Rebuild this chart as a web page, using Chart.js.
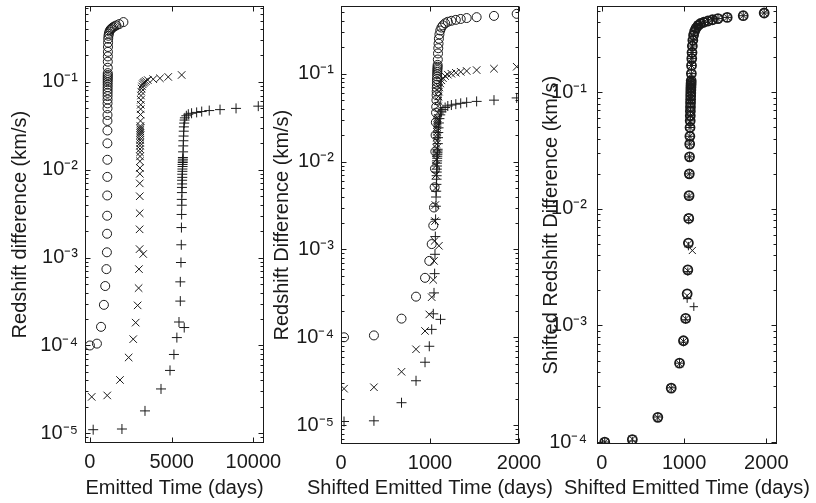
<!DOCTYPE html>
<html><head><meta charset="utf-8">
<script src="https://cdn.jsdelivr.net/npm/chart.js@4.4.1/dist/chart.umd.min.js"></script>
<style>
html,body{margin:0;padding:0;background:#fff;}
#wrap{position:relative;width:816px;height:503px;overflow:hidden;background:#fff;}
canvas{position:absolute;top:0;}
</style></head><body>
<div id="wrap">
<canvas id="c1" width="300" height="503" style="left:0px;width:300px;height:503px"></canvas>
<canvas id="c2" width="300" height="503" style="left:268px;width:300px;height:503px"></canvas>
<canvas id="c3" width="280" height="503" style="left:536px;width:280px;height:503px"></canvas>
</div>
<script>
// ---------- data ----------
// shifted emitted time (days), common grid of panels 2 and 3
const shiftedTime = [34, 370, 680, 843, 944, 992, 1019, 1037, 1045, 1052, 1056, 1060, 1063, 1066, 1068, 1070, 1072, 1074, 1075, 1076, 1077, 1078, 1079, 1080, 1081, 1082, 1083, 1084, 1085, 1086, 1088, 1090, 1093, 1096, 1100, 1106, 1115, 1128, 1145, 1170, 1200, 1240, 1290, 1345, 1412, 1524, 1719, 1974];

// emitted time (days), panel 1
const circleTime = [0, 430, 680, 857, 937, 1010, 1040, 1050, 1055, 1060, 1065, 1068, 1070, 1072, 1074, 1076, 1078, 1080, 1081, 1082, 1083, 1084, 1085, 1086, 1087, 1088, 1089, 1090, 1091, 1092, 1094, 1096, 1099, 1102, 1106, 1112, 1120, 1135, 1160, 1195, 1240, 1290, 1350, 1420, 1510, 1620, 1790, 2050];
const crossTime = [110, 1060, 1840, 2370, 2650, 2800, 2920, 2980, 3000, 3040, 3040, 3045, 3050, 3050, 3055, 3060, 3060, 3065, 3065, 3070, 3070, 3075, 3075, 3080, 3080, 3080, 3085, 3085, 3090, 3090, 3095, 3100, 3105, 3110, 3115, 3125, 3140, 3160, 3190, 3230, 3280, 3340, 3420, 3540, 3874, 4284, 4792, 5612];
const plusTime = [200, 1960, 3370, 4350, 4900, 5140, 5320, 5450, 5530, 5530, 5570, 5590, 5600, 5610, 5620, 5620, 5630, 5630, 5640, 5640, 5650, 5650, 5660, 5660, 5670, 5670, 5680, 5680, 5690, 5690, 5700, 5710, 5720, 5730, 5740, 5750, 5770, 5790, 5810, 5900, 6020, 6220, 6530, 6840, 7300, 7960, 8940, 10300];

// redshift difference (km/s), panels 1 and 2
const circleValues = [1.0e-4, 1.05e-4, 1.63e-4, 2.9e-4, 4.75e-4, 7.4e-4, 1.15e-3, 1.87e-3, 3.0e-3, 5.1e-3, 8.3e-3, 1.3e-2, 2.0e-2, 2.8e-2, 3.6e-2, 4.2e-2, 5.0e-2, 5.7e-2, 6.3e-2, 6.9e-2, 7.5e-2, 8.1e-2, 8.7e-2, 9.3e-2, 9.9e-2, 1.05e-1, 1.1e-1, 1.15e-1, 1.2e-1, 1.26e-1, 1.45e-1, 1.7e-1, 1.95e-1, 2.2e-1, 2.5e-1, 2.8e-1, 3.1e-1, 3.35e-1, 3.55e-1, 3.75e-1, 3.9e-1, 4.0e-1, 4.1e-1, 4.2e-1, 4.3e-1, 4.4e-1, 4.55e-1, 4.8e-1];
const crossValues = [2.6e-5, 2.7e-5, 4.05e-5, 7.3e-5, 1.18e-4, 1.82e-4, 2.86e-4, 4.5e-4, 7.4e-4, 1.25e-3, 2.1e-3, 3.2e-3, 5.0e-3, 7.0e-3, 9.0e-3, 1.05e-2, 1.25e-2, 1.42e-2, 1.58e-2, 1.72e-2, 1.88e-2, 2.02e-2, 2.18e-2, 2.32e-2, 2.48e-2, 2.62e-2, 2.75e-2, 2.88e-2, 3.0e-2, 3.15e-2, 3.6e-2, 4.25e-2, 4.9e-2, 5.5e-2, 6.25e-2, 7.0e-2, 7.75e-2, 8.4e-2, 8.9e-2, 9.4e-2, 9.75e-2, 1.0e-1, 1.025e-1, 1.05e-1, 1.075e-1, 1.1e-1, 1.14e-1, 1.2e-1];
const plusValues = [1.1e-5, 1.12e-5, 1.8e-5, 3.2e-5, 5.2e-5, 7.9e-5, 1.23e-4, 1.85e-4, 3.2e-4, 5.3e-4, 8.8e-4, 1.4e-3, 2.2e-3, 3.1e-3, 3.95e-3, 4.6e-3, 5.5e-3, 6.3e-3, 6.9e-3, 7.6e-3, 8.2e-3, 8.9e-3, 9.6e-3, 1.02e-2, 1.09e-2, 1.15e-2, 1.21e-2, 1.26e-2, 1.32e-2, 1.38e-2, 1.6e-2, 1.87e-2, 2.14e-2, 2.42e-2, 2.75e-2, 3.08e-2, 3.4e-2, 3.68e-2, 3.9e-2, 4.12e-2, 4.29e-2, 4.4e-2, 4.5e-2, 4.6e-2, 4.72e-2, 4.84e-2, 5.0e-2, 5.3e-2];

// shifted redshift difference (km/s), panel 3
const crossShiftedValues = [1.0e-4, 1.06e-4, 1.62e-4, 2.9e-4, 4.7e-4, 7.3e-4, 1.14e-3, 1.8e-3, 2.95e-3, 5.0e-3, 8.4e-3, 1.28e-2, 2.0e-2, 2.8e-2, 3.6e-2, 4.2e-2, 5.0e-2, 5.7e-2, 6.3e-2, 6.9e-2, 7.5e-2, 8.1e-2, 8.7e-2, 9.3e-2, 9.9e-2, 1.05e-1, 1.1e-1, 1.15e-1, 1.2e-1, 1.26e-1, 1.44e-1, 1.7e-1, 1.96e-1, 2.2e-1, 2.5e-1, 2.8e-1, 3.1e-1, 3.36e-1, 3.56e-1, 3.76e-1, 3.9e-1, 4.0e-1, 4.1e-1, 4.2e-1, 4.3e-1, 4.4e-1, 4.56e-1, 4.8e-1];
const plusShiftedValues = [1.0e-4, 1.02e-4, 1.64e-4, 2.92e-4, 4.75e-4, 7.2e-4, 1.12e-3, 1.7e-3, 2.9e-3, 4.8e-3, 8.0e-3, 1.27e-2, 2.0e-2, 2.8e-2, 3.6e-2, 4.2e-2, 5.0e-2, 5.7e-2, 6.3e-2, 6.9e-2, 7.5e-2, 8.1e-2, 8.7e-2, 9.3e-2, 9.9e-2, 1.05e-1, 1.1e-1, 1.15e-1, 1.2e-1, 1.26e-1, 1.45e-1, 1.7e-1, 1.95e-1, 2.2e-1, 2.5e-1, 2.8e-1, 3.1e-1, 3.35e-1, 3.55e-1, 3.75e-1, 3.9e-1, 4.0e-1, 4.1e-1, 4.2e-1, 4.3e-1, 4.4e-1, 4.55e-1, 4.8e-1];

// isolated points of the x and + series
const crossExtraTime = [3260], crossExtraShiftedTime = [1100], crossExtraValue = [1.1e-3], crossExtraShiftedValue = [4.4e-3];
const plusExtraTime = [5770], plusExtraShiftedTime = [1118], plusExtraValue = [1.6e-4], plusExtraShiftedValue = [1.45e-3];

// axes
const p1XTicks = [0, 5000, 10000], p1XTickLabels = ['0', '5000', '10000'];
const p2XTicks = [0, 1000, 2000], p2XTickLabels = ['0', '1000', '2000'];
const p3XTicks = [0, 1000, 2000], p3XTickLabels = ['0', '1000', '2000'];
const p12YTicks = [1e-5, 1e-4, 1e-3, 1e-2, 1e-1], p12YTickLabels = ['10\u207B\u2075', '10\u207B\u2074', '10\u207B\u00B3', '10\u207B\u00B2', '10\u207B\u00B9'];
const p3YTicks = [1e-4, 1e-3, 1e-2, 1e-1], p3YTickLabels = ['10\u207B\u2074', '10\u207B\u00B3', '10\u207B\u00B2', '10\u207B\u00B9'];

// ---------- rendering ----------
const FONT = '"Liberation Sans", Arial, Helvetica, sans-serif';
const INK = '#1a1a1a';

const pts = (xs, ys) => xs.map((x, i) => ({x: x, y: ys[i]}));

function series(data, style, radius, width) {
  return {
    data: data, showLine: false,
    pointStyle: style, pointRadius: radius, pointHoverRadius: radius,
    pointBorderColor: INK, borderColor: INK,
    pointBackgroundColor: 'rgba(0,0,0,0)', backgroundColor: 'rgba(0,0,0,0)',
    pointBorderWidth: width, borderWidth: width
  };
}

const framePlugin = {
  id: 'frame',
  afterDraw(chart, args, o) {
    const {ctx, chartArea: a} = chart;
    const xs = chart.scales.x, ys = chart.scales.y;
    const L = Math.round(a.left) + 0.5, R = Math.round(a.right) - 0.5;
    const T = Math.round(a.top) + 0.5, B = Math.round(a.bottom) - 0.5;
    ctx.save();
    ctx.strokeStyle = INK; ctx.lineWidth = 1;
    ctx.strokeRect(L, T, R - L, B - T);
    ctx.beginPath();
    xs.ticks.forEach(t => {
      const px = Math.round(xs.getPixelForValue(t.value)) + 0.5;
      ctx.moveTo(px, T); ctx.lineTo(px, T + 5);
      ctx.moveTo(px, B); ctx.lineTo(px, B - 5);
    });
    ys.ticks.forEach(t => {
      const py = Math.round(ys.getPixelForValue(t.value)) + 0.5;
      ctx.moveTo(L, py); ctx.lineTo(L + 5, py);
      ctx.moveTo(R, py); ctx.lineTo(R - 5, py);
    });
    const lo = Math.floor(Math.log10(ys.min)), hi = Math.ceil(Math.log10(ys.max));
    for (let d = lo; d <= hi; d++) {
      for (let k = 2; k <= 9; k++) {
        const v = k * Math.pow(10, d);
        if (v <= ys.min || v >= ys.max) continue;
        const py = Math.round(ys.getPixelForValue(v)) + 0.5;
        ctx.moveTo(L, py); ctx.lineTo(L + 3, py);
        ctx.moveTo(R, py); ctx.lineTo(R - 3, py);
      }
    }
    ctx.stroke();
    ctx.fillStyle = INK;
    ctx.font = '20px ' + FONT;
    ctx.textAlign = 'center'; ctx.textBaseline = 'middle';
    ctx.fillText(o.xTitle, (a.left + a.right) / 2, o.xTitleY);
    ctx.restore();
  }
};

function makePanel(id, p) {
  return new Chart(document.getElementById(id), {
    type: 'scatter',
    data: {datasets: p.datasets},
    options: {
      responsive: false, animation: false, devicePixelRatio: 1, events: [],
      layout: {padding: {left: 0, right: p.padRight, top: 4, bottom: 0}},
      plugins: {legend: {display: false}, tooltip: {enabled: false},
                frame: {xTitle: p.xTitle, xTitleY: 488}},
      scales: {
        x: {
          type: 'linear', min: p.xMin, max: p.xMax, bounds: 'data',
          grid: {display: false, drawTicks: false}, border: {display: false},
          afterBuildTicks: s => { s.ticks = p.xTicks.map(v => ({value: v})); },
          ticks: {autoSkip: false, maxRotation: 0, minRotation: 0, padding: 7, color: INK,
                  font: {family: FONT, size: 20}, callback: (v, i) => p.xTickLabels[i]},
          afterFit: s => { s.height = p.xAxisH; s.paddingLeft = 0; s.paddingRight = 0; }
        },
        y: {
          type: 'logarithmic', min: p.yMin, max: p.yMax, bounds: 'data',
          grid: {display: false, drawTicks: false}, border: {display: false},
          afterBuildTicks: s => { s.ticks = p.yTicks.map(v => ({value: v})); },
          ticks: {autoSkip: false, padding: p.yTickPad, color: INK,
                  font: {family: FONT, size: 20}, callback: (v, i) => p.yTickLabels[i]},
          title: {display: true, text: p.yTitle, color: INK, font: {family: FONT, size: 20},
                  padding: {top: p.yTitlePad, bottom: 0}},
          afterFit: s => { s.width = p.yAxisW; s.paddingTop = 0; s.paddingBottom = 0; }
        }
      }
    },
    plugins: [framePlugin]
  });
}

makePanel('c1', {
  datasets: [
    series(pts(circleTime, circleValues), 'circle', 4.5, 1),
    series(pts(crossTime.concat(crossExtraTime), crossValues.concat(crossExtraValue)), 'crossRot', 5.3, 1),
    series(pts(plusTime.concat(plusExtraTime), plusValues.concat(plusExtraValue)), 'cross', 5, 1)
  ],
  xMin: -300, xMax: 10650, xTicks: p1XTicks, xTickLabels: p1XTickLabels,
  yMin: 7.76e-6, yMax: 0.726, yTicks: p12YTicks, yTickLabels: p12YTickLabels,
  yTitle: 'Redshift difference (km/s)', xTitle: 'Emitted Time (days)',
  padRight: 36, xAxisH: 60, yAxisW: 85, yTitlePad: 8, yTickPad: 7
});

makePanel('c2', {
  datasets: [
    series(pts(shiftedTime, circleValues), 'circle', 4.5, 1),
    series(pts(shiftedTime.concat(crossExtraShiftedTime), crossValues.concat(crossExtraValue)), 'crossRot', 5.3, 1),
    series(pts(shiftedTime.concat(plusExtraShiftedTime), plusValues.concat(plusExtraValue)), 'cross', 5, 1)
  ],
  xMin: 0, xMax: 2000, xTicks: p2XTicks, xTickLabels: p2XTickLabels,
  yMin: 6.1e-6, yMax: 0.585, yTicks: p12YTicks, yTickLabels: p12YTickLabels,
  yTitle: 'Redshift Difference (km/s)', xTitle: 'Shifted Emitted Time (days)',
  padRight: 49, xAxisH: 59, yAxisW: 73, yTitlePad: 2, yTickPad: 7
});

makePanel('c3', {
  datasets: [
    series(pts(shiftedTime, circleValues), 'circle', 4.5, 1.8),
    series(pts(shiftedTime.concat(crossExtraShiftedTime), crossShiftedValues.concat(crossExtraShiftedValue)), 'crossRot', 5, 1),
    series(pts(shiftedTime.concat(plusExtraShiftedTime), plusShiftedValues.concat(plusExtraShiftedValue)), 'cross', 4.2, 1)
  ],
  xMin: -60, xMax: 2130, xTicks: p3XTicks, xTickLabels: p3XTickLabels,
  yMin: 9.62e-5, yMax: 0.548, yTicks: p3YTicks, yTickLabels: p3YTickLabels,
  yTitle: 'Shifted Redshift Difference (km/s)', xTitle: 'Shifted Emitted Time (days)',
  padRight: 39, xAxisH: 59, yAxisW: 61, yTitlePad: 3, yTickPad: 10
});
</script>
</body></html>
